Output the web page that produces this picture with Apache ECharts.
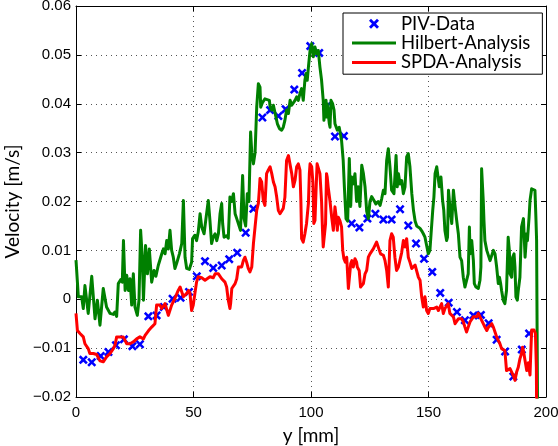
<!DOCTYPE html>
<html>
<head>
<meta charset="utf-8">
<script src="https://cdn.jsdelivr.net/npm/echarts/dist/echarts.min.js"></script>
<style>
  html, body { margin: 0; padding: 0; background: #fff; }
  #chart { width: 558px; height: 446px; }
</style>
</head>
<body>
<div id="chart"></div>
<script>
// Measured PIV velocities: position across the channel [mm] and velocity [m/s]
const pivY = [3.1, 6.7, 10.5, 13.8, 17.0, 20.4, 24.0, 27.2, 30.8, 34.3, 37.4, 41.1, 44.5, 48.1,
  51.4, 54.9, 58.4, 62.0, 65.2, 68.6, 72.2, 75.5, 79.3, 82.6, 86.1, 89.2, 92.9, 96.2, 99.7,
  103.5, 106.7, 110.2, 114.0, 117.3, 120.6, 124.0, 127.4, 130.8, 134.3, 137.9, 141.4, 144.7,
  148.1, 151.6, 155.0, 158.6, 162.1, 165.5, 169.1, 172.3, 175.6, 179.0, 182.6, 186.1, 189.7, 192.8];
const pivV = [-0.0124, -0.0129, -0.0116, -0.0108, -0.0094, -0.0082, -0.0096, -0.0092, -0.0035,
  -0.0033, -0.0016, 0.0001, 0.0003, 0.0015, 0.0047, 0.0078, 0.0064, 0.0069, 0.0082, 0.0095,
  0.0136, 0.0185, 0.0372, 0.0387, 0.0375, 0.0389, 0.0429, 0.0463, 0.0518, 0.0504, 0.0395,
  0.0333, 0.0334, 0.0155, 0.0147, 0.0165, 0.0175, 0.0163, 0.0163, 0.0184, 0.0151, 0.0114,
  0.0083, 0.0056, 0.0013, -0.0007, -0.0026, -0.0043, -0.0033, -0.0032, -0.0049, -0.0083,
  -0.0107, -0.0158, -0.0103, -0.0070];

// Hilbert-transform velocity profile: [y in mm, velocity in m/s]
const hilbertCurve = [[0,0.0080],[1.0,0.0005],[2.4,0.0005],[3.1,-0.0019],[3.8,0.0028],[5.2,-0.0029],
  [6.7,0.0047],[8.1,-0.0040],[9.1,-0.0002],[10.2,-0.0053],[11.6,0.0022],[12.3,0.0018],[13.0,-0.0016],
  [14.5,-0.0029],[15.9,-0.0031],[16.6,-0.0026],[17.3,-0.0035],[18.0,0.0032],[19.0,0.0040],[19.7,0.0035],
  [20.2,0.0120],[20.9,0.0018],[21.6,0.0049],[22.3,0.0018],[23.0,0.0042],[23.7,-0.0012],[24.4,0.0052],
  [25.1,-0.0016],[26.1,-0.0033],[26.8,-0.0002],[27.5,0.0141],[28.2,0.0086],[28.7,-0.0002],[29.6,0.0110],
  [30.4,0.0052],[31.2,0.0103],[32.2,0.0035],[33.2,0.0059],[34.0,0.0047],[35.0,0.0069],[35.7,0.0066],
  [36.5,0.0093],[37.2,0.0103],[37.9,0.0093],[38.6,0.0120],[39.3,0.0103],[40.0,0.0141],[40.7,0.0100],
  [41.4,0.0086],[42.1,0.0063],[42.8,0.0073],[44.0,0.0093],[45.0,0.0114],[45.7,0.0202],[46.4,0.0086],
  [47.1,0.0063],[48.2,0.0061],[49.2,0.0076],[49.6,0.0124],[50.6,0.0131],[51.3,0.0120],[52.0,0.0137],
  [52.8,0.0175],[53.5,0.0148],[54.5,0.0134],[55.3,0.0165],[56.3,0.0202],[57.0,0.0161],[57.7,0.0114],
  [58.4,0.0127],[59.2,0.0134],[59.9,0.0120],[60.6,0.0134],[61.3,0.0175],[62.0,0.0196],[62.4,0.0155],
  [63.0,0.0127],[64.1,0.0130],[64.8,0.0125],[65.5,0.0209],[66.2,0.0200],[67.0,0.0216],[67.7,0.0175],
  [68.4,0.0165],[69.1,0.0161],[70.0,0.0141],[70.9,0.0253],[71.5,0.0165],[72.2,0.0150],[72.9,0.0216],
  [73.6,0.0200],[74.3,0.0342],[74.8,0.0300],[75.5,0.0277],[76.2,0.0300],[76.9,0.0393],[77.6,0.0441],
  [78.3,0.0434],[78.6,0.0393],[79.4,0.0403],[80.4,0.0410],[81.1,0.0407],[82.3,0.0407],[82.6,0.0393],
  [83.3,0.0387],[84.0,0.0397],[84.7,0.0393],[85.7,0.0359],[86.6,0.0349],[87.5,0.0346],[88.2,0.0352],
  [88.9,0.0366],[89.6,0.0387],[90.4,0.0380],[91.1,0.0407],[91.8,0.0397],[92.5,0.0393],[93.2,0.0407],
  [93.9,0.0414],[94.6,0.0407],[95.3,0.0421],[96.0,0.0431],[96.7,0.0407],[97.4,0.0448],[97.9,0.0462],
  [98.4,0.0448],[98.9,0.0475],[99.6,0.0509],[100.3,0.0523],[101.0,0.0496],[101.7,0.0516],[102.4,0.0502],
  [103.1,0.0509],[103.8,0.0475],[104.5,0.0448],[105.2,0.0407],[105.5,0.0366],[105.9,0.0387],[106.4,0.0407],
  [106.6,0.0373],[106.9,0.0400],[107.8,0.0359],[108.1,0.0352],[108.5,0.0407],[109.2,0.0400],[109.8,0.0387],
  [110.2,0.0359],[110.9,0.0356],[111.2,0.0346],[112.0,0.0352],[112.6,0.0352],[113.0,0.0325],[113.7,0.0284],
  [114.2,0.0230],[114.9,0.0165],[115.6,0.0160],[116.3,0.0288],[116.9,0.0190],[117.3,0.0250],[118.0,0.0236],
  [118.7,0.0257],[119.4,0.0200],[120.1,0.0230],[120.8,0.0190],[121.6,0.0274],[122.3,0.0257],[123.0,0.0230],
  [123.7,0.0180],[124.4,0.0165],[125.1,0.0200],[125.8,0.0210],[126.8,0.0202],[127.6,0.0195],[128.6,0.0200],
  [129.4,0.0192],[130.1,0.0206],[130.8,0.0223],[131.5,0.0216],[132.2,0.0284],[132.9,0.0308],[133.6,0.0271],
  [134.3,0.0223],[135.3,0.0216],[136.2,0.0294],[136.7,0.0230],[137.2,0.0257],[137.9,0.0236],[138.6,0.0243],
  [139.3,0.0216],[140.0,0.0230],[140.7,0.0291],[141.4,0.0298],[142.1,0.0271],[142.9,0.0216],[143.6,0.0182],
  [144.3,0.0160],[145.0,0.0150],[145.7,0.0152],[146.4,0.0145],[147.1,0.0140],[147.8,0.0134],[148.5,0.0127],
  [149.2,0.0110],[149.9,0.0093],[150.6,0.0100],[151.1,0.0134],[151.8,0.0182],[152.3,0.0209],[152.8,0.0257],
  [153.5,0.0271],[154.2,0.0274],[154.6,0.0230],[155.3,0.0250],[156.0,0.0202],[156.5,0.0182],[157.0,0.0140],
  [157.7,0.0120],[158.1,0.0127],[158.5,0.0223],[159.1,0.0190],[159.9,0.0155],[160.6,0.0223],[161.3,0.0190],
  [162.0,0.0161],[162.7,0.0134],[163.4,0.0086],[164.1,0.0079],[164.8,0.0045],[165.5,0.0025],[166.2,0.0022],
  [166.9,0.0052],[167.4,0.0148],[167.7,0.0093],[168.4,0.0120],[169.1,0.0079],[169.5,0.0032],[170.2,0.0025],
  [171.2,0.0022],[171.9,0.0039],[172.3,0.0066],[172.6,0.0267],[173.3,0.0202],[173.6,0.0161],[174.0,0.0120],
  [174.8,0.0100],[176.2,0.0079],[177.6,0.0100],[178.3,0.0093],[179.0,0.0066],[179.7,0.0032],[180.2,0.0045],
  [180.7,0.0032],[181.1,0.0018],[181.8,-0.0002],[182.5,-0.0009],[183.2,0.0018],[183.9,0.0127],[184.4,0.0100],
  [184.7,0.0052],[185.4,0.0045],[185.8,0.0086],[186.4,0.0093],[186.8,0.0066],[187.2,0.0005],[187.8,-0.0002],
  [188.2,0.0018],[188.9,0.0045],[189.6,0.0148],[190.4,0.0165],[191.1,0.0086],[191.8,0.0134],[192.1,0.0120],
  [192.8,0.0168],[193.2,0.0202],[193.9,0.0226],[194.6,0.0223],[195.3,0.0223],[195.7,0.0168],[196.0,0.0120],
  [196.4,-0.0220]];

// SPDA velocity profile: [y in mm, velocity in m/s]
const spdaCurve = [[0,-0.0029],[0.6,-0.0064],[1.7,-0.0070],[3.1,-0.0077],[3.8,-0.0091],[5.2,-0.0101],
  [5.9,-0.0111],[7.4,-0.0111],[8.8,-0.0113],[9.5,-0.0111],[10.2,-0.0126],[11.6,-0.0128],[13.0,-0.0118],
  [14.5,-0.0111],[15.9,-0.0101],[16.6,-0.0094],[17.3,-0.0077],[18.0,-0.0081],[18.7,-0.0077],[20.1,-0.0077],
  [21.6,-0.0091],[23.0,-0.0091],[24.4,-0.0087],[25.8,-0.0081],[27.2,-0.0077],[28.7,-0.0081],[29.4,-0.0074],
  [30.9,-0.0064],[32.2,-0.0057],[33.6,-0.0050],[34.3,-0.0012],[35.7,-0.0012],[36.5,-0.0019],[37.9,-0.0009],
  [38.6,-0.0006],[39.3,-0.0033],[40.7,-0.0012],[42.1,0.0002],[43.5,0.0018],[44.3,0.0025],[45.0,0.0022],
  [45.7,0.0005],[46.4,0.0002],[47.1,0.0012],[47.9,0.0018],[48.5,0.0012],[49.2,-0.0023],[49.9,-0.0012],
  [50.6,0.0012],[51.3,0.0035],[52.0,0.0046],[53.5,0.0044],[54.9,0.0039],[55.6,0.0035],[57.0,0.0046],
  [57.7,0.0049],[58.4,0.0044],[59.2,0.0052],[60.6,0.0052],[62.0,0.0042],[63.4,0.0035],[64.1,0.0025],
  [64.8,-0.0002],[65.5,-0.0019],[65.8,-0.0009],[66.3,0.0022],[67.0,0.0025],[67.7,0.0032],[68.4,0.0042],
  [69.1,0.0066],[69.8,0.0069],[70.5,0.0066],[71.2,0.0079],[71.9,0.0086],[72.6,0.0076],[73.3,0.0063],
  [74.0,0.0056],[74.8,0.0066],[75.5,0.0114],[76.2,0.0148],[76.9,0.0182],[77.6,0.0196],[78.0,0.0223],
  [78.3,0.0247],[79.0,0.0240],[79.7,0.0202],[80.4,0.0192],[81.1,0.0257],[81.8,0.0264],[82.6,0.0271],
  [83.3,0.0257],[84.0,0.0240],[84.7,0.0230],[85.4,0.0209],[86.1,0.0182],[86.8,0.0175],[87.5,0.0172],
  [88.2,0.0186],[88.9,0.0209],[89.6,0.0284],[90.4,0.0294],[91.1,0.0291],[91.8,0.0257],[92.5,0.0230],
  [93.2,0.0243],[93.9,0.0271],[94.6,0.0277],[95.3,0.0264],[95.7,0.0200],[96.0,0.0124],[96.7,0.0117],
  [97.4,0.0134],[98.1,0.0155],[98.9,0.0196],[99.3,0.0257],[99.6,0.0277],[100.3,0.0271],[100.8,0.0240],
  [101.2,0.0155],[101.7,0.0161],[102.2,0.0230],[102.6,0.0277],[103.1,0.0281],[103.8,0.0257],[104.5,0.0200],
  [104.9,0.0140],[105.2,0.0107],[105.9,0.0104],[106.2,0.0155],[106.6,0.0257],[106.9,0.0250],[107.3,0.0230],
  [108.1,0.0200],[108.8,0.0168],[109.5,0.0141],[109.8,0.0161],[110.2,0.0189],[110.9,0.0161],[111.2,0.0141],
  [111.6,0.0168],[112.3,0.0161],[113.0,0.0148],[113.5,0.0100],[114.0,0.0083],[114.6,0.0076],[115.2,0.0086],
  [115.9,0.0022],[116.3,0.0025],[116.9,0.0073],[117.4,0.0079],[118.0,0.0066],[118.7,0.0083],[119.4,0.0076],
  [119.7,0.0066],[120.5,0.0059],[121.1,0.0025],[121.7,0.0022],[122.3,0.0032],[123.0,0.0052],[123.7,0.0059],
  [124.4,0.0086],[125.1,0.0093],[125.8,0.0096],[126.5,0.0103],[127.2,0.0107],[127.9,0.0117],[128.6,0.0117],
  [129.1,0.0100],[129.6,0.0093],[130.8,0.0090],[131.5,0.0079],[132.2,0.0059],[132.9,0.0025],[133.6,0.0120],
  [134.3,0.0134],[135.0,0.0127],[135.7,0.0086],[136.4,0.0059],[137.2,0.0066],[137.9,0.0063],[138.6,0.0096],
  [139.3,0.0120],[140.0,0.0107],[140.7,0.0124],[141.4,0.0086],[142.1,0.0076],[142.9,0.0063],[143.6,0.0066],
  [144.3,0.0070],[145.0,0.0066],[145.7,0.0045],[146.4,0.0039],[147.1,0.0005],[147.8,-0.0016],[148.5,0.0005],
  [149.2,-0.0023],[149.9,-0.0029],[150.6,-0.0019],[152.1,-0.0019],[153.5,-0.0016],[154.2,-0.0023],
  [154.9,-0.0019],[155.6,-0.0009],[156.3,-0.0029],[157.0,-0.0019],[157.7,-0.0016],[158.4,-0.0009],
  [159.1,-0.0029],[159.9,-0.0033],[160.6,-0.0036],[161.3,-0.0050],[162.0,-0.0046],[162.7,-0.0040],
  [163.4,-0.0043],[164.1,-0.0040],[164.8,-0.0046],[165.5,-0.0057],[166.2,-0.0067],[166.9,-0.0057],
  [167.7,-0.0046],[168.4,-0.0043],[169.1,-0.0036],[169.8,-0.0033],[170.5,-0.0036],[171.2,-0.0029],
  [171.9,-0.0036],[172.6,-0.0033],[173.3,-0.0050],[174.0,-0.0057],[174.8,-0.0064],[175.5,-0.0057],
  [176.2,-0.0060],[176.9,-0.0050],[177.6,-0.0057],[178.3,-0.0067],[179.0,-0.0077],[179.7,-0.0084],
  [180.4,-0.0091],[181.1,-0.0101],[181.8,-0.0098],[182.5,-0.0105],[183.2,-0.0146],[183.9,-0.0149],
  [184.7,-0.0142],[185.4,-0.0149],[186.1,-0.0156],[186.8,-0.0166],[187.5,-0.0149],[188.2,-0.0139],
  [188.9,-0.0122],[189.6,-0.0111],[190.0,-0.0098],[190.4,-0.0105],[191.1,-0.0126],[191.8,-0.0146],
  [192.5,-0.0130],[193.2,-0.0155],[193.6,-0.0100],[193.9,-0.0063],[194.9,-0.0063],[195.5,-0.0070],
  [195.9,-0.0140],[196.0,-0.0220]];

const seriesNames = ['PIV-Data', 'Hilbert-Analysis', 'SPDA-Analysis'];
const xTicks = { min: 0, max: 200, step: 50 };
const yTicks = { min: -0.02, max: 0.06, step: 0.01 };
const xTitle = 'y [mm]';
const yTitle = 'Velocity [m/s]';

// thick "x" marker outline
const crossMark = 'path://M0,2 L2,0 L5,3 L8,0 L10,2 L7,5 L10,8 L8,10 L5,7 L2,10 L0,8 L3,5 Z';
// plain stroke used as the legend sample for the two curves
const strokeIcon = 'path://M0,0 L44,0 L44,3 L0,3 Z';

const tickFont = { fontFamily: 'Liberation Sans, Arial, sans-serif', fontSize: 15, color: '#000' };
const titleFont = { fontFamily: 'Lato, sans-serif', fontSize: 19, color: '#000' };
const dotted = { color: '#555', width: 1, type: [1, 4] };
const frame = { show: true, onZero: false, lineStyle: { color: '#000', width: 1 } };
const inTick = { show: true, inside: true, length: 5, lineStyle: { color: '#000' } };

function fmtVel(v) {
  if (Math.abs(v) < 1e-9) return '0';
  return (v < 0 ? '\u2212' : '') + Math.abs(v).toFixed(2);
}

const chart = echarts.init(document.getElementById('chart'), null, { renderer: 'canvas' });
chart.setOption({
  animation: false,
  backgroundColor: '#fff',
  grid: { left: 76, right: 12, top: 6, bottom: 49, containLabel: false, outerBoundsMode: 'none' },
  legend: {
    orient: 'vertical', left: 343, top: 13,
    backgroundColor: '#fff', borderColor: '#000', borderWidth: 1, borderRadius: 0,
    padding: [1, 12, 2, 9], itemGap: 0, itemWidth: 44, itemHeight: 10,
    selectedMode: false,
    textStyle: { fontFamily: 'Lato, sans-serif', fontSize: 18.5, color: '#000', lineHeight: 19.4 },
    data: [
      { name: seriesNames[0] },
      { name: seriesNames[1], icon: strokeIcon },
      { name: seriesNames[2], icon: strokeIcon }
    ]
  },
  xAxis: [{
    type: 'value', position: 'bottom', min: xTicks.min, max: xTicks.max, interval: xTicks.step,
    axisLine: frame, axisTick: inTick,
    axisLabel: Object.assign({ margin: 8 }, tickFont),
    splitLine: { show: true, lineStyle: dotted },
    name: xTitle, nameLocation: 'middle', nameGap: 29, nameTextStyle: titleFont
  }, {
    type: 'value', position: 'top', min: xTicks.min, max: xTicks.max, interval: xTicks.step,
    axisLine: frame, axisTick: inTick, axisLabel: { show: false }, splitLine: { show: false }
  }],
  yAxis: [{
    type: 'value', position: 'left', min: yTicks.min, max: yTicks.max, interval: yTicks.step,
    axisLine: frame, axisTick: inTick,
    axisLabel: Object.assign({ margin: 5, formatter: fmtVel }, tickFont),
    splitLine: { show: true, lineStyle: dotted },
    name: yTitle, nameLocation: 'middle', nameGap: 52, nameTextStyle: titleFont
  }, {
    type: 'value', position: 'right', min: yTicks.min, max: yTicks.max, interval: yTicks.step,
    axisLine: frame, axisTick: inTick, axisLabel: { show: false }, splitLine: { show: false }
  }],
  series: [{
    name: seriesNames[0], type: 'scatter', xAxisIndex: 0, yAxisIndex: 0,
    data: pivY.map((y, i) => [y, pivV[i]]),
    symbol: crossMark, symbolSize: 9,
    itemStyle: { color: '#0000ff', opacity: 1 }, z: 2
  }, {
    name: seriesNames[1], type: 'line', xAxisIndex: 0, yAxisIndex: 0,
    data: hilbertCurve, showSymbol: false, symbol: 'none',
    lineStyle: { color: '#008000', width: 3, join: 'round' },
    itemStyle: { color: '#008000' }, z: 3
  }, {
    name: seriesNames[2], type: 'line', xAxisIndex: 0, yAxisIndex: 0,
    data: spdaCurve, showSymbol: false, symbol: 'none',
    lineStyle: { color: '#ff0000', width: 3, join: 'round' },
    itemStyle: { color: '#ff0000' }, z: 4
  }]
});
</script>
</body>
</html>
